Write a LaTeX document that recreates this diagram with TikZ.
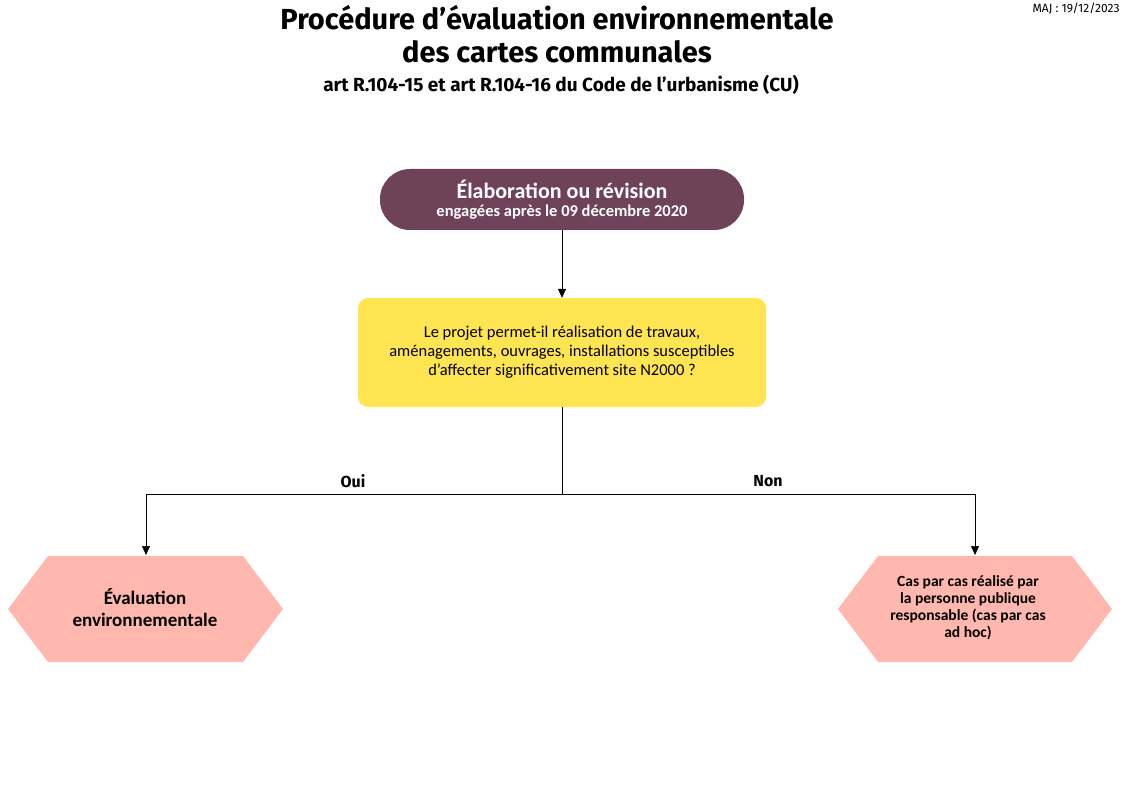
\documentclass[tikz,border=0pt]{standalone}
\usepackage{fontspec}
\setmainfont{Carlito}
\newfontfamily\titlefont{Fira Sans}
\usetikzlibrary{arrows.meta}
\definecolor{plum}{HTML}{6E4259}
\definecolor{yel}{HTML}{FFE552}
\definecolor{pink}{HTML}{FFB7AE}
\begin{document}
\begin{tikzpicture}[x=1pt,y=-1pt,
 conn/.style={draw=black,line width=0.6pt},
 arr/.style={conn,-{Triangle[length=9pt,width=8pt]}},
 hexa/.style={fill=pink,draw=none}]
\useasboundingbox (0,0) rectangle (1123,794);
\node[font=\titlefont\fontsize{12}{14}\selectfont,anchor=north east] (maj) at (1123,-1) {MAJ : 19/12/2023};
\node[font=\titlefont\fontsize{29}{33}\selectfont\bfseries,align=center] (t1) at (557,34) {Procédure d’évaluation environnementale\\des cartes communales};
\node[font=\titlefont\fontsize{19}{21}\selectfont\bfseries] (t2) at (561,85) {art R.104-15 et art R.104-16 du Code de l’urbanisme (CU)};
\node[fill=plum,rounded corners=30pt,minimum width=364pt,minimum height=61pt] (top) at (562,199.5) {};
\node[text=white,font=\bfseries\fontsize{22}{26}\selectfont] (topa) at (562,189) {Élaboration ou révision};
\node[text=white,font=\bfseries\fontsize{16.5}{20}\selectfont] (topb) at (562,212) {engagées après le 09 décembre 2020};
\node[fill=yel,rounded corners=10pt,minimum width=408pt,minimum height=109pt,align=center,font=\fontsize{16.5}{19}\selectfont] (q) at (562,352.5)
 {Le projet permet-il réalisation de travaux,\\aménagements, ouvrages, installations susceptibles\\d’affecter significativement site N2000 ?};
\fill[hexa] (8,609)--(48,556)--(243,556)--(283,609)--(243,662)--(48,662)--cycle;
\node[font=\bfseries\fontsize{19}{22}\selectfont,align=center] (ev) at (145,608) {Évaluation\\environnementale};
\fill[hexa] (838,609)--(878,556)--(1072,556)--(1112,609)--(1072,662)--(878,662)--cycle;
\node[font=\bfseries\fontsize{15.5}{17}\selectfont,align=center] (cpc) at (968,608) {Cas par cas réalisé par\\la personne publique\\responsable (cas par cas\\ad hoc)};
\coordinate (j) at (562,494);
\coordinate (l) at (146,494);
\coordinate (r) at (975,494);
\coordinate (le) at (146,555);
\coordinate (re) at (975,555);
\draw[arr] (top.south) -- (q.north);
\draw[conn] (q.south) -- (j);
\draw[conn] (l) -- (r);
\draw[arr] (l) -- (le);
\draw[arr] (r) -- (re);
\node[font=\titlefont\bfseries\fontsize{16}{18}\selectfont] (oui) at (353,481) {Oui};
\node[font=\titlefont\bfseries\fontsize{16}{18}\selectfont] (non) at (768,481) {Non};
\end{tikzpicture}
\end{document}
